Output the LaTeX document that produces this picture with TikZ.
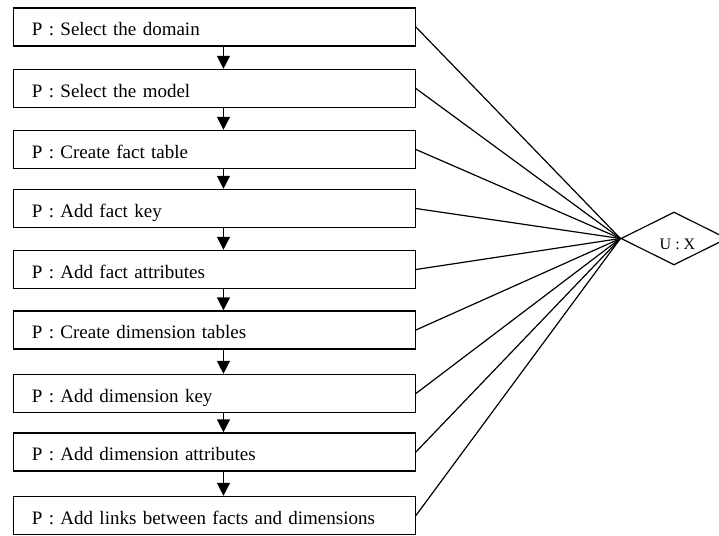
\documentclass[tikz,border=0pt]{standalone}
\usepackage{fontspec}
\setmainfont{Liberation Serif}
\usetikzlibrary{shapes.geometric,arrows.meta}
\tikzset{
  stepbox/.style={draw, line width=1.4pt, minimum width=401.5pt, minimum height=38pt,
    text width=365pt, align=left, inner xsep=18pt, inner ysep=0pt,
    text height=17pt, text depth=0pt,
    font=\fontsize{19}{21}\selectfont, anchor=west},
  flow/.style={line width=1.4pt, -{Triangle[width=13pt,length=13pt]}},
  link/.style={line width=1.2pt},
  ux/.style={draw, diamond, line width=1.2pt, aspect=2, inner sep=0pt,
    minimum width=106pt, minimum height=53pt, font=\fontsize{16}{18}\selectfont}
}
\begin{document}
\begin{tikzpicture}[x=1pt,y=-1pt]
\clip (0,0) rectangle (719,535);
\node[stepbox] (b1) at (13,27) {P : Select the domain};
\node[stepbox] (b2) at (13,88.5) {P : Select the model};
\node[stepbox] (b3) at (13,149.5) {P : Create fact table};
\node[stepbox] (b4) at (13,208.5) {P : Add fact key};
\node[stepbox] (b5) at (13,269.5) {P : Add fact attributes};
\node[stepbox] (b6) at (13,330) {P : Create dimension tables};
\node[stepbox] (b7) at (13,393.5) {P : Add dimension key};
\node[stepbox] (b8) at (13,452) {P : Add dimension attributes};
\node[stepbox] (b9) at (13,515.5) {P : Add links between facts and dimensions};
\node[ux] (d) at (674,238.5) {\smash{\raisebox{-11pt}{\hspace{7pt}U : X}}};
\foreach \a/\b in {b1/b2,b2/b3,b3/b4,b4/b5,b5/b6,b6/b7,b7/b8,b8/b9}
  \draw[flow] ([xshift=9pt]\a.south) -- ([xshift=9pt]\b.north);
\foreach \a in {b1,b2,b3,b4,b5,b6,b7,b8,b9}
  \draw[link] (\a.east) -- (d.west);
\end{tikzpicture}
\end{document}
